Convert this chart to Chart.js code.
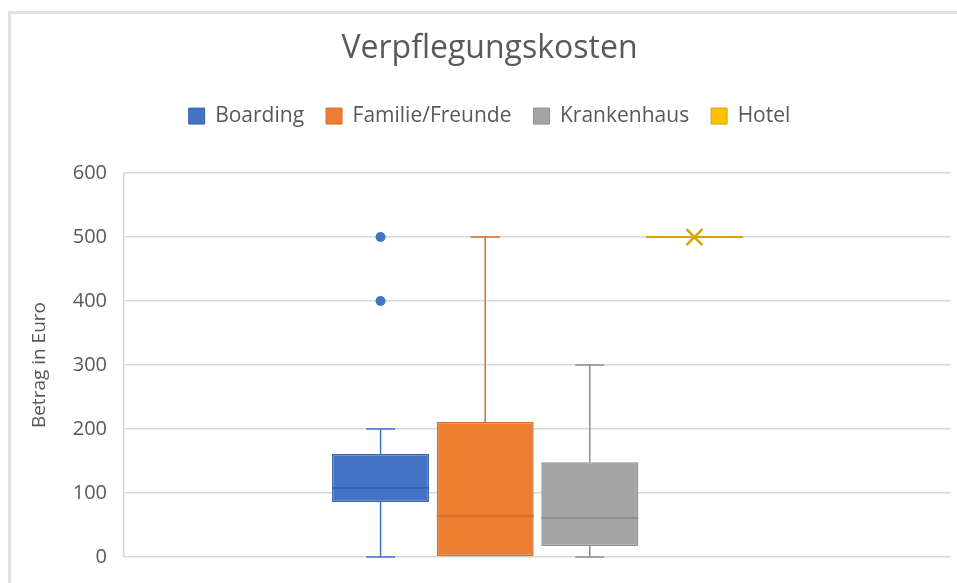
<!DOCTYPE html>
<html>
<head>
<meta charset="utf-8">
<script src="https://cdn.jsdelivr.net/npm/chart.js@4/dist/chart.umd.min.js"></script>
<style>
  html, body { margin: 0; padding: 0; background: #fff; }
  #wrap { width: 957px; height: 583px; position: relative; }
</style>
</head>
<body>
<div id="wrap"><canvas id="chart"></canvas></div>
<script>
// Werte
var categories = [''];
var seriesNames = ['Boarding', 'Familie/Freunde', 'Krankenhaus', 'Hotel'];
var mins    = [0,   0,   0,   500];
var q1s     = [86,  0,   17,  500];
var medians = [108, 64,  61,  500];
var q3s     = [161, 211, 148, 500];
var maxs    = [200, 500, 300, 500];
var means   = [null, null, null, 500];
var outliers = [[400, 500], [], [], []];
var yMin = 0, yMax = 600, yStep = 100;

var fills   = ['#4472C4', '#ED7D31', '#A5A5A5', '#FFC000'];
var borders = ['#3A64AE', '#D56F2A', '#8F8F8F', '#D9A400'];
var lines   = ['#4472C4', '#D56F2A', '#8F8F8F', '#D9A400'];
var textColor = '#595959';
var gridColor = '#D9D9D9';

// Rahmen um das Diagramm
var frame = {
  id: 'frame',
  beforeInit: function (chart) {
    // Legende etwas hoeher machen, damit der Plotbereich bei y=173 beginnt
    var lg = chart.legend;
    if (lg) {
      var fit = lg.fit;
      lg.fit = function () {
        fit.call(this);
        this.height = 89.5;
      };
    }
  },
  beforeDraw: function (chart) {
    var ctx = chart.ctx;
    ctx.save();
    ctx.fillStyle = '#fff';
    ctx.fillRect(0, 0, chart.width, chart.height);
    ctx.strokeStyle = '#E2E2E2';
    ctx.lineWidth = 3;
    ctx.strokeRect(9.5, 12.5, 1000, 700);
    ctx.restore();
  }
};

// Whisker, Median, Ausreisser und Mittelwert
var boxExtras = {
  id: 'boxExtras',
  afterDatasetsDraw: function (chart) {
    var ctx = chart.ctx;
    var y = chart.scales.y;
    ctx.save();
    for (var i = 0; i < seriesNames.length; i++) {
      var bar = chart.getDatasetMeta(i).data[0];
      var x = bar.x, w = bar.width, cap = w * 0.3;
      ctx.strokeStyle = lines[i];
      ctx.lineWidth = 1.5;
      // oberer Whisker
      if (maxs[i] > q3s[i]) {
        ctx.beginPath();
        ctx.moveTo(x, y.getPixelForValue(q3s[i]));
        ctx.lineTo(x, y.getPixelForValue(maxs[i]));
        ctx.moveTo(x - cap / 2, y.getPixelForValue(maxs[i]));
        ctx.lineTo(x + cap / 2, y.getPixelForValue(maxs[i]));
        ctx.stroke();
      }
      // unterer Whisker
      if (mins[i] < q1s[i]) {
        ctx.beginPath();
        ctx.moveTo(x, y.getPixelForValue(q1s[i]));
        ctx.lineTo(x, y.getPixelForValue(mins[i]));
        ctx.moveTo(x - cap / 2, y.getPixelForValue(mins[i]));
        ctx.lineTo(x + cap / 2, y.getPixelForValue(mins[i]));
        ctx.stroke();
      }
      // Median
      ctx.strokeStyle = borders[i];
      ctx.lineWidth = 2;
      ctx.beginPath();
      ctx.moveTo(x - w / 2, y.getPixelForValue(medians[i]));
      ctx.lineTo(x + w / 2, y.getPixelForValue(medians[i]));
      ctx.stroke();
      // Ausreisser
      ctx.fillStyle = fills[i];
      outliers[i].forEach(function (v) {
        ctx.beginPath();
        ctx.arc(x, y.getPixelForValue(v), 5, 0, Math.PI * 2);
        ctx.fill();
      });
      // Mittelwert (X)
      if (means[i] !== null) {
        var my = y.getPixelForValue(means[i]), s = 8;
        ctx.strokeStyle = borders[i];
        ctx.lineWidth = 2.5;
        ctx.beginPath();
        ctx.moveTo(x - s, my - s); ctx.lineTo(x + s, my + s);
        ctx.moveTo(x - s, my + s); ctx.lineTo(x + s, my - s);
        ctx.stroke();
      }
    }
    ctx.restore();
  }
};

var datasets = seriesNames.map(function (name, i) {
  return {
    label: name,
    data: [[q1s[i], q3s[i]]],
    backgroundColor: fills[i],
    borderColor: borders[i],
    borderWidth: q1s[i] === q3s[i] ? 0 : 1.5,
    borderSkipped: false,
    categoryPercentage: 0.506,
    barPercentage: 0.927
  };
});

new Chart(document.getElementById('chart'), {
  type: 'bar',
  data: { labels: categories, datasets: datasets },
  plugins: [frame, boxExtras],
  options: {
    responsive: true,
    maintainAspectRatio: false,
    animation: false,
    layout: { padding: { top: 12, left: 28, right: 6, bottom: 26 } },
    plugins: {
      tooltip: { enabled: false },
      title: {
        display: true,
        text: 'Verpflegungskosten',
        color: textColor,
        font: { family: 'Open Sans', size: 32, weight: 'normal', lineHeight: 0.8 },
        padding: { top: 24, bottom: 22 }
      },
      legend: {
        display: true,
        labels: {
          color: textColor,
          font: { family: 'Open Sans', size: 21 },
          boxWidth: 16,
          boxHeight: 16,
          padding: 22,
          generateLabels: function () {
            return seriesNames.map(function (name, i) {
              return {
                text: name,
                fillStyle: fills[i],
                strokeStyle: borders[i],
                lineWidth: 1,
                fontColor: textColor,
                datasetIndex: i
              };
            });
          }
        }
      }
    },
    scales: {
      x: { display: false },
      y: {
        min: yMin,
        max: yMax,
        ticks: {
          stepSize: yStep,
          color: textColor,
          padding: 6,
          font: { family: 'Open Sans', size: 20 }
        },
        grid: { color: gridColor, lineWidth: 1.5, drawTicks: true, tickLength: 11, tickColor: 'rgba(0,0,0,0)' },
        border: { display: true, color: gridColor, width: 1.5 },
        title: {
          display: true,
          text: 'Betrag in Euro',
          color: textColor,
          font: { family: 'Open Sans', size: 19 },
          padding: { top: 0, bottom: 0 }
        },
        afterFit: function (scale) { scale.width = 96; }
      }
    }
  }
});
</script>
</body>
</html>
